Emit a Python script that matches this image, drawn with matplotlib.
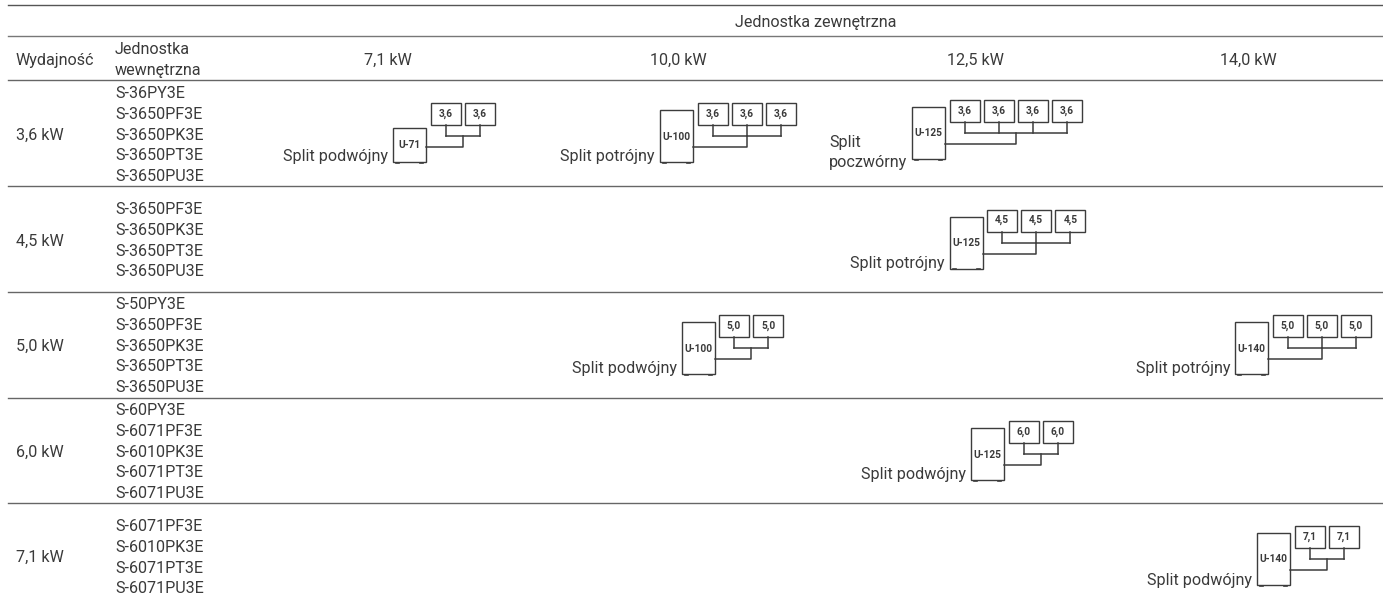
import matplotlib
matplotlib.use('Agg')
import matplotlib.pyplot as plt
from matplotlib.patches import Rectangle

plt.rcParams['font.family'] = ['Roboto', 'DejaVu Sans']

# table content
outer_title = 'Jednostka zewnętrzna'
outdoor_sizes = ['7,1 kW', '10,0 kW', '12,5 kW', '14,0 kW']
capacities = ['3,6 kW', '4,5 kW', '5,0 kW', '6,0 kW', '7,1 kW']
indoor_units = [
    ['S-36PY3E', 'S-3650PF3E', 'S-3650PK3E', 'S-3650PT3E', 'S-3650PU3E'],
    ['S-3650PF3E', 'S-3650PK3E', 'S-3650PT3E', 'S-3650PU3E'],
    ['S-50PY3E', 'S-3650PF3E', 'S-3650PK3E', 'S-3650PT3E', 'S-3650PU3E'],
    ['S-60PY3E', 'S-6071PF3E', 'S-6010PK3E', 'S-6071PT3E', 'S-6071PU3E'],
    ['S-6071PF3E', 'S-6010PK3E', 'S-6071PT3E', 'S-6071PU3E'],
]

# split diagrams
unit_names = ['U-71', 'U-100', 'U-125', 'U-125', 'U-100', 'U-140', 'U-125', 'U-140']
unit_labels = ['3,6', '3,6', '3,6', '4,5', '5,0', '5,0', '6,0', '7,1']
unit_counts = [2, 3, 4, 3, 2, 3, 2, 2]
split_names = ['Split podwójny', 'Split potrójny', 'Split\npoczwórny', 'Split potrójny',
               'Split podwójny', 'Split potrójny', 'Split podwójny', 'Split podwójny']

# layout, pixels
unit_left = [393, 660, 912, 949.5, 681.5, 1235, 971, 1257]
unit_bottom = [162, 162, 159, 268.5, 374, 374, 480, 585]
row_lines = [80, 185.5, 292, 398, 503]
row_centers = [135, 241, 346.5, 452.5, 557.5]
text_tops = [93.5, 209.5, 304.5, 410.5, 526.5]
column_centers = [387.5, 678, 975, 1248]

TEXT = '#3a3a3a'
LINE = '#3c3c3c'
FS = 11.6

fig = plt.figure(figsize=(13.83, 6.05), dpi=100)
ax = fig.add_axes([0, 0, 1, 1])
ax.set_xlim(0, 1383)
ax.set_ylim(605, 0)
ax.axis('off')


def diagram(x, bottom, name, label, n, split):
    height = 34 if name == 'U-71' else 52
    ax.add_patch(Rectangle((x, bottom - height), 33, height, fc='white', ec=LINE, lw=1.0))
    ax.text(x + 16.5, bottom - 16.5 if name == 'U-71' else bottom - 25.5, name,
            fontsize=7.3, fontweight='bold', color=TEXT, ha='center', va='center')
    # feet
    ax.plot([x + 3, x + 6], [bottom + 0.7, bottom + 0.7], color=LINE, lw=1.2)
    ax.plot([x + 27, x + 30], [bottom + 0.7, bottom + 0.7], color=LINE, lw=1.2)

    stems = []
    for i in range(n):
        bx = x + 37.5 + i * 34.2
        ax.add_patch(Rectangle((bx, bottom - 59), 30, 22, fc='white', ec=LINE, lw=1.0))
        ax.text(bx + 15, bottom - 48.5, label, fontsize=7.3, fontweight='bold',
                color=TEXT, ha='center', va='center')
        stems.append(bx + 15)
        ax.plot([bx + 15, bx + 15], [bottom - 37, bottom - 26], color=LINE, lw=1.1)
    mid = (stems[0] + stems[-1]) / 2
    ax.plot([stems[0], stems[-1]], [bottom - 26, bottom - 26], color=LINE, lw=1.1)
    ax.plot([mid, mid, x + 33], [bottom - 26, bottom - 15, bottom - 15], color=LINE, lw=1.1)

    if '\n' in split:
        first, second = split.split('\n')
        ax.text(x - 83, bottom - 16, first, fontsize=FS, color=TEXT, va='center')
        ax.text(x - 83, bottom + 4, second, fontsize=FS, color=TEXT, va='center')
    else:
        ax.text(x - 5, bottom - 5, split, fontsize=FS, color=TEXT, ha='right', va='center')


# horizontal rules
ax.plot([8, 1383], [5, 5], color='#555555', lw=1.0)
ax.plot([8, 1383], [35.5, 35.5], color='#777777', lw=1.0)
for y in row_lines:
    ax.plot([8, 1383], [y, y], color='#666666', lw=1.0)

# header
ax.text(816, 22, outer_title, fontsize=FS, color=TEXT, ha='center', va='center')
ax.text(16, 60, 'Wydajność', fontsize=FS, color=TEXT, va='center')
ax.text(115, 49, 'Jednostka', fontsize=FS, color=TEXT, va='center')
ax.text(115, 70, 'wewnętrzna', fontsize=FS, color=TEXT, va='center')
for cx, s in zip(column_centers, outdoor_sizes):
    ax.text(cx, 60, s, fontsize=FS, color=TEXT, ha='center', va='center')

# rows
for cap, units, cy, top in zip(capacities, indoor_units, row_centers, text_tops):
    ax.text(16, cy, cap, fontsize=FS, color=TEXT, va='center')
    for i, u in enumerate(units):
        ax.text(115, top + i * 20.8, u, fontsize=FS, color=TEXT, va='center')

for x, b, nm, lb, n, sp in zip(unit_left, unit_bottom, unit_names, unit_labels, unit_counts, split_names):
    diagram(x, b, nm, lb, n, sp)

fig.savefig('out.png', dpi=100)
